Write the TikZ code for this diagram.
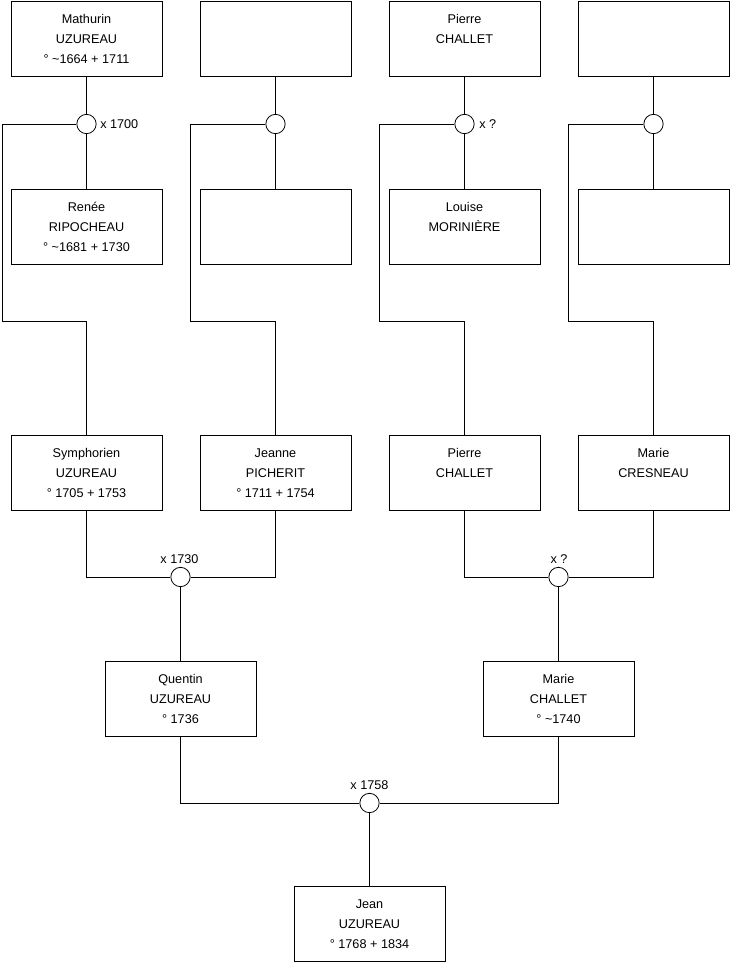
\documentclass[tikz,border=0pt]{standalone}
\usepackage{fontspec}
\setmainfont{Liberation Sans}
\begin{document}
\begin{tikzpicture}[x=0.75pt, y=-0.75pt,
	person/.style={draw, line width=0.6pt, minimum width=113.25pt, minimum height=56.25pt, align=center, inner sep=0pt, font=\fontsize{9.5}{15}\selectfont},
	union/.style={draw, circle, line width=0.6pt, minimum size=14.5pt, inner sep=0pt, fill=white},
	wedding/.style={inner sep=0pt, font=\fontsize{9.5}{12}\selectfont}]
	\useasboundingbox (0, 0) rectangle (740, 975);
	\node[person] (mathurin) at (86.5, 38.5) {Mathurin\\UZUREAU\\° \textasciitilde1664 + 1711};
	\node[person] (father2) at (275.5, 38.5) {};
	\node[person] (pierre1) at (464.5, 38.5) {Pierre\\CHALLET\\~};
	\node[person] (father4) at (653.5, 38.5) {};
	\node[person] (renee) at (86.5, 227) {Renée\\RIPOCHEAU\\° \textasciitilde1681 + 1730};
	\node[person] (mother2) at (275.5, 227) {};
	\node[person] (louise) at (464.5, 227) {Louise\\MORINIÈRE\\~};
	\node[person] (mother4) at (653.5, 227) {};
	\node[person] (symphorien) at (86.5, 473) {Symphorien\\UZUREAU\\° 1705 + 1753};
	\node[person] (jeanne) at (275.5, 473) {Jeanne\\PICHERIT\\° 1711 + 1754};
	\node[person] (pierre2) at (464.5, 473) {Pierre\\CHALLET\\~};
	\node[person] (marie1) at (653.5, 473) {Marie\\CRESNEAU\\~};
	\node[person] (quentin) at (180.5, 699) {Quentin\\UZUREAU\\° 1736};
	\node[person] (marie2) at (558.5, 699) {Marie\\CHALLET\\° \textasciitilde1740};
	\node[person] (jean) at (369.5, 924) {Jean\\UZUREAU\\° 1768 + 1834};
	\coordinate (bend1) at (2, 321);
	\coordinate (bend2) at (190, 321);
	\coordinate (bend3) at (379, 321);
	\coordinate (bend4) at (568, 321);
	\node[union] (u1) at (86.5, 124) {};
	\node[union] (u2) at (275.5, 124) {};
	\node[union] (u3) at (464.5, 124) {};
	\node[union] (u4) at (653.5, 124) {};
	\node[union] (u5) at (180.5, 577) {};
	\node[union] (u6) at (558.5, 577) {};
	\node[union] (u7) at (369.5, 803) {};
	\draw[line width=0.6pt] (mathurin) -- (u1) -- (renee);
	\draw[line width=0.6pt] (father2) -- (u2) -- (mother2);
	\draw[line width=0.6pt] (pierre1) -- (u3) -- (louise);
	\draw[line width=0.6pt] (father4) -- (u4) -- (mother4);
	\draw[line width=0.6pt] (u1.west) -| (bend1) -| (symphorien.north);
	\draw[line width=0.6pt] (u2.west) -| (bend2) -| (jeanne.north);
	\draw[line width=0.6pt] (u3.west) -| (bend3) -| (pierre2.north);
	\draw[line width=0.6pt] (u4.west) -| (bend4) -| (marie1.north);
	\draw[line width=0.6pt] (symphorien.south) |- (u5.west);
	\draw[line width=0.6pt] (jeanne.south) |- (u5.east);
	\draw[line width=0.6pt] (u5) -- (quentin);
	\draw[line width=0.6pt] (pierre2.south) |- (u6.west);
	\draw[line width=0.6pt] (marie1.south) |- (u6.east);
	\draw[line width=0.6pt] (u6) -- (marie2);
	\draw[line width=0.6pt] (quentin.south) |- (u7.west);
	\draw[line width=0.6pt] (marie2.south) |- (u7.east);
	\draw[line width=0.6pt] (u7) -- (jean);
	\node[wedding, anchor=west] (w1) at (100, 124) {x 1700};
	\node[wedding, anchor=west] (w3) at (479, 124) {x ?};
	\node[wedding, anchor=base] (w5) at (179.5, 563) {x 1730};
	\node[wedding, anchor=base] (w6) at (559, 563) {x ?};
	\node[wedding, anchor=base] (w7) at (369.5, 789) {x 1758};
\end{tikzpicture}
\end{document}
